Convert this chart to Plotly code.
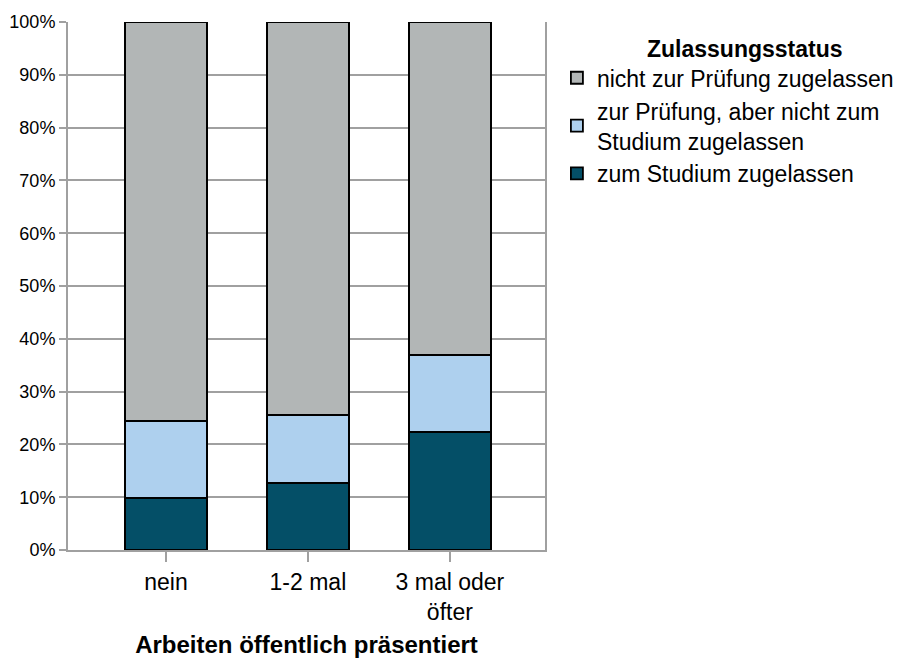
import plotly.graph_objects as go

categories = ["nein", "1-2 mal", "3 mal oder<br>öfter"]
series_names = ["zum Studium zugelassen", "zur Prüfung, aber nicht zum<br>Studium zugelassen", "nicht zur Prüfung zugelassen"]
studium = [9.9, 12.75, 22.3]
pruefung = [14.5, 12.85, 14.6]
nicht = [75.6, 74.4, 63.1]
colors = ["#044f67", "#aed0ee", "#b2b6b6"]
yticks = [0, 10, 20, 30, 40, 50, 60, 70, 80, 90, 100]
legend_title = "Zulassungsstatus"

fig = go.Figure()
for name, vals, col in zip(series_names, [studium, pruefung, nicht], colors):
    fig.add_trace(go.Bar(x=categories, y=vals, name=name, width=0.58,
                         marker=dict(color=col, line=dict(color="black", width=1.8))))

font_family = "Liberation Sans, Arial, sans-serif"
fig.update_layout(
    barmode="stack",
    width=901, height=650,
    margin=dict(l=60, r=364, t=14, b=108, autoexpand=False),
    plot_bgcolor="white", paper_bgcolor="white",
    font=dict(family=font_family, size=19, color="black"),
    legend=dict(x=1.025, y=0.935, xanchor="left", yanchor="top",
                traceorder="reversed",
                font=dict(size=23), tracegroupgap=0),
    xaxis=dict(range=[-0.69, 2.67], showline=True, linecolor="#a0a0a0", linewidth=2,
               ticks="outside", ticklen=10, tickwidth=2, tickcolor="#a0a0a0",
               showgrid=False, tickfont=dict(size=23), automargin=False,
               title=dict(text="<b>Arbeiten öffentlich präsentiert</b>", standoff=18, font=dict(size=24))),
    yaxis=dict(range=[0, 100], tickvals=yticks, ticktext=[f"{v}%" for v in yticks],
               showgrid=True, gridcolor="#a0a0a0", gridwidth=2,
               showline=True, linecolor="#a0a0a0", linewidth=2, mirror=True,
               ticks="outside", ticklen=7, tickwidth=2, tickcolor="#a0a0a0",
               zeroline=False, tickfont=dict(size=18), automargin=False),
    annotations=[dict(text=f"<b>{legend_title}</b>", xref="paper", yref="paper",
                      x=1.419, y=0.949, xanchor="center", yanchor="middle",
                      showarrow=False, font=dict(size=23))],
)
fig.write_html("out.html")
